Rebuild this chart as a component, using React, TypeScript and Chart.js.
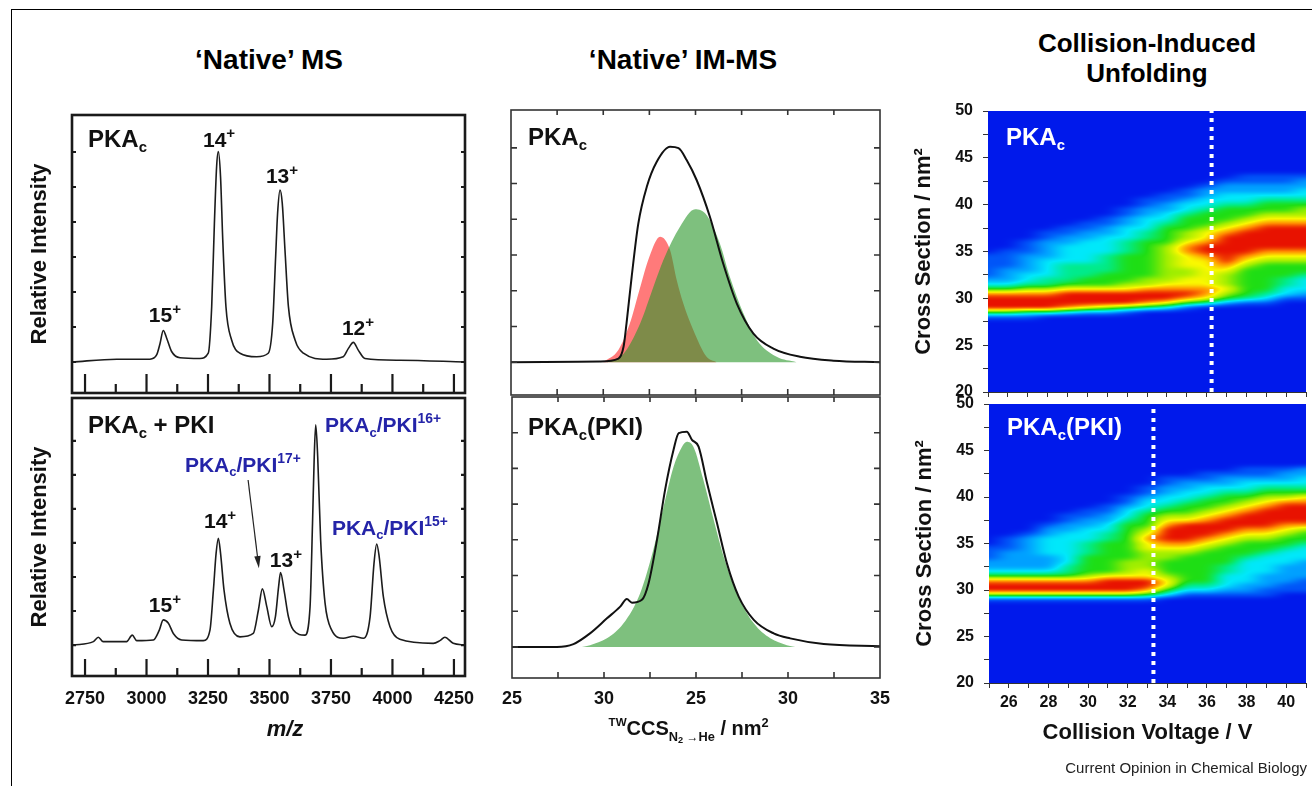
import React, { useEffect, useRef } from 'react';
import { Chart, registerables } from 'chart.js';

Chart.register(...registerables);

const FONT = '"Liberation Sans", Arial, Helvetica, sans-serif';
Chart.defaults.font.family = FONT;
Chart.defaults.color = '#111';

// ---------------- 'Native' MS ----------------
const msTickValues = [2750, 3000, 3250, 3500, 3750, 4000, 4250];
const msTickLabels = ['2750', '3000', '3250', '3500', '3750', '4000', '4250'];
const msMinorTicks = [2875, 3125, 3375, 3625, 3875, 4125];
const msIntensityTicks = [0, 1, 2, 3, 4, 5, 6];

const msApoMz = [2697, 2879, 3014, 3041, 3055, 3068, 3082, 3102, 3136, 3217, 3251, 3265, 3276, 3285, 3292, 3301, 3310, 3323, 3346, 3380, 3448, 3495, 3513, 3525, 3533, 3543, 3552, 3563, 3577, 3604, 3638, 3732, 3800, 3821, 3841, 3861, 3888, 4030, 4295];
const msApoIntensity = [0.0, 0.08, 0.08, 0.2, 0.53, 0.9, 0.68, 0.3, 0.12, 0.1, 0.25, 1.58, 3.96, 5.58, 6.01, 5.29, 3.49, 1.58, 0.63, 0.25, 0.15, 0.25, 1.1, 3.0, 4.25, 4.91, 4.53, 3.2, 1.58, 0.63, 0.25, 0.08, 0.15, 0.39, 0.56, 0.34, 0.1, 0.05, 0.0];

const msPkiMz = [2702, 2784, 2804, 2824, 2919, 2942, 2960, 3028, 3052, 3068, 3089, 3109, 3143, 3231, 3258, 3272, 3283, 3292, 3301, 3315, 3339, 3380, 3434, 3455, 3471, 3489, 3509, 3524, 3537, 3545, 3559, 3577, 3597, 3644, 3665, 3675, 3682, 3688, 3696, 3708, 3726, 3753, 3800, 3841, 3882, 3909, 3925, 3936, 3946, 3963, 3990, 4030, 4166, 4193, 4213, 4247, 4295];
const msPkiIntensity = [0, 0.1, 0.23, 0.1, 0.1, 0.29, 0.13, 0.15, 0.44, 0.74, 0.64, 0.34, 0.15, 0.13, 0.44, 1.62, 2.7, 3.14, 2.7, 1.62, 0.64, 0.24, 0.34, 1.03, 1.65, 1.13, 0.54, 0.83, 1.71, 2.13, 1.62, 0.83, 0.44, 0.29, 1.13, 3.58, 5.54, 6.47, 5.54, 3.09, 1.23, 0.44, 0.2, 0.26, 0.2, 0.83, 2.4, 2.97, 2.6, 1.42, 0.54, 0.17, 0.05, 0.13, 0.23, 0.05, 0];

const pki17ArrowFrom = { mz: 3413, y: 4.85 };
const pki17ArrowTo = { mz: 3457, y: 2.26 };

// ---------------- 'Native' IM-MS ----------------
const imTickValues = [25, 27.5, 30, 32.5, 35];
const imTickLabels = ['25', '30', '25', '30', '35'];
const imMinorTicks = [26.25, 27.5, 28.75, 30, 31.25, 32.5, 33.75];
const imIntensityTicks = [0, 1, 2, 3, 4, 5, 6];

const imApoCcs = [25.0, 27.41, 27.91, 28.05, 28.13, 28.27, 28.45, 28.68, 28.95, 29.31, 29.54, 29.76, 30.03, 30.39, 30.75, 31.12, 31.57, 32.11, 32.83, 33.74, 35.0];
const imApoTotal = [0, 0.02, 0.1, 0.43, 1.08, 2.39, 3.88, 4.91, 5.61, 6.03, 5.99, 5.66, 5.1, 4.07, 2.76, 1.64, 0.8, 0.38, 0.15, 0.04, 0];
const imApoCompactCcs = [27.5, 27.91, 28.22, 28.48, 28.75, 29.04, 29.31, 29.49, 29.67, 29.94, 30.3, 30.57];
const imApoCompact = [0, 0.34, 1.08, 2.02, 2.95, 3.51, 3.14, 2.3, 1.64, 0.9, 0.15, 0];
const imApoExtendedCcs = [27.59, 28.04, 28.5, 28.86, 29.13, 29.58, 29.99, 30.3, 30.66, 30.93, 31.3, 31.66, 32.2, 32.74];
const imApoExtended = [0, 0.22, 1.08, 2.11, 2.86, 3.79, 4.28, 4.12, 3.32, 2.39, 1.36, 0.62, 0.15, 0];

const imPkiCcs = [25.0, 26.22, 26.67, 27.12, 27.58, 27.94, 28.12, 28.26, 28.53, 28.71, 28.94, 29.16, 29.39, 29.53, 29.75, 29.89, 30.07, 30.3, 30.57, 30.84, 31.16, 31.57, 32.11, 32.56, 33.47, 35.0];
const imPkiTotal = [0, 0, 0.08, 0.38, 0.8, 1.13, 1.34, 1.24, 1.32, 1.78, 3.0, 4.4, 5.52, 5.99, 6.03, 5.8, 5.61, 4.59, 3.47, 2.34, 1.41, 0.76, 0.38, 0.24, 0.08, 0.02];
const imPkiFitCcs = [26.9, 27.12, 27.58, 28.03, 28.48, 28.84, 29.12, 29.39, 29.62, 29.75, 29.93, 30.2, 30.48, 30.75, 31.11, 31.57, 32.02, 32.47, 32.7];
const imPkiFit = [0, 0.05, 0.24, 0.66, 1.5, 2.72, 3.93, 5.05, 5.61, 5.75, 5.61, 4.68, 3.56, 2.53, 1.5, 0.66, 0.24, 0.05, 0];

// ---------------- Collision-Induced Unfolding ----------------
const ciuVoltages = [25, 26, 27, 28, 29, 30, 31, 32, 33, 34, 35, 36, 37, 38, 39, 40, 41];
const ciuVoltTickLabels = ['', '26', '', '28', '', '30', '', '32', '', '34', '', '36', '', '38', '', '40', ''];
const ciuCcsRows = [43, 42.5, 42, 41.5, 41, 40.5, 40, 39.5, 39, 38.5, 38, 37.5, 37, 36.5, 36, 35.5, 35, 34.5, 34, 33.5, 33, 32.5, 32, 31.5, 31, 30.5, 30, 29.5, 29, 28.5, 28, 27.5, 27];
const ciuCcsTicks = [20, 22.5, 25, 27.5, 30, 32.5, 35, 37.5, 40, 42.5, 45, 47.5, 50];
const ciuCcsTickLabels = ['20', '', '25', '', '30', '', '35', '', '40', '', '45', '', '50'];
// intensity level 0-9 per voltage column, rows follow ciuCcsRows (43 -> 27 nm2)
const ciuApoGrid = [
  '0000000000' + '0000000' + '11111' + '2358999' + '5100',
  '0000000000' + '000000' + '1111' + '222' + '358999' + '5100',
  '0000000000' + '0000' + '111' + '2222' + '33' + '468999' + '4100',
  '0000000000' + '00' + '11' + '2222' + '3333' + '44' + '68999' + '4000',
  '0000000000' + '0' + '11' + '22' + '3333' + '4444' + '579998' + '3000',
  '0000000000' + '11' + '22' + '33333' + '444' + '55' + '79997' + '2000',
  '000000000' + '11' + '22' + '3333' + '4444' + '555' + '79996' + '2000',
  '0000000' + '11' + '22' + '333' + '444' + '555555' + '67999' + '5' + '1000',
  '00000' + '11' + '22' + '333' + '44' + '55555555' + '66' + '8998' + '4' + '0000',
  '0000' + '11' + '22' + '33' + '4' + '5555' + '66666666' + '7899' + '73' + '0000',
  '000' + '11' + '2' + '33' + '4' + '555' + '66' + '788777' + '66' + '77' + '898' + '51' + '0000',
  '00' + '1' + '22' + '33' + '4' + '555' + '6' + '77' + '8998' + '777777' + '88' + '7' + '40' + '0000',
  '0' + '1' + '22' + '33' + '4' + '555' + '6' + '7' + '8' + '999999' + '8' + '7' + '666' + '7' + '6' + '5' + '2' + '00000',
  '11' + '22' + '33' + '4' + '55' + '6' + '7' + '8' + '99999' + '8' + '7' + '6' + '555555' + '4' + '1' + '00000',
  '11' + '22' + '3' + '4' + '55' + '6' + '7' + '8' + '99999' + '8' + '7' + '6' + '555555' + '4' + '3' + '1' + '00000',
  '11' + '22' + '3' + '4' + '55' + '6' + '7' + '8' + '99999' + '8' + '7' + '6' + '555' + '44' + '33' + '1' + '000000',
  '1' + '22' + '33' + '4' + '5' + '66' + '7' + '8' + '99999' + '8' + '7' + '6' + '55' + '4' + '333' + '2' + '1' + '000000',
];
const ciuPkiGrid = [
  '0000000000' + '0000000' + '111' + '22' + '358996' + '1' + '0000',
  '0000000000' + '00000' + '111' + '2222' + '358996' + '1' + '0000',
  '0000000000' + '0000' + '1' + '2222222' + '358996' + '1' + '0000',
  '0000000000' + '00' + '1' + '22' + '3333' + '222' + '358996' + '1' + '0000',
  '0000000000' + '11' + '22' + '3333333' + '44' + '58996' + '1' + '0000',
  '000000000' + '11' + '22' + '333' + '444' + '5555' + '68996' + '1' + '0000',
  '00000000' + '11' + '22' + '33' + '44' + '5555555' + '79996' + '1' + '0000',
  '000000' + '11' + '2' + '33' + '4' + '55555555' + '666' + '79996' + '1' + '0000',
  '0000' + '11' + '2' + '33' + '4' + '555' + '6' + '7' + '8' + '77' + '6666' + '77' + '998' + '5' + '1' + '0000',
  '00' + '11' + '22' + '33' + '4' + '5' + '6' + '7' + '8' + '999' + '8' + '7' + '66' + '555' + '6' + '77' + '5' + '3' + '00000',
  '00' + '1' + '22' + '33' + '4' + '55' + '6' + '7' + '9999' + '8' + '7' + '6' + '555555' + '4' + '3' + '1' + '00000',
  '0' + '11' + '2' + '33' + '4' + '55' + '6' + '7' + '8' + '999' + '8' + '7' + '6' + '5555555' + '4' + '3' + '1' + '00000',
  '0' + '1' + '22' + '3' + '4' + '55' + '6' + '7' + '8' + '999' + '8' + '7' + '6' + '5555' + '44' + '333' + '2' + '1' + '00000',
  '11' + '2' + '33' + '4' + '5' + '6' + '7' + '8' + '999' + '8' + '7' + '6' + '555' + '4' + '33333' + '22' + '1' + '00000',
  '11' + '2' + '3' + '4' + '5' + '6' + '7' + '8' + '9999' + '8' + '7' + '6' + '55' + '4' + '3333' + '222' + '11' + '00000',
  '1' + '22' + '3' + '4' + '5' + '6' + '8' + '9999' + '8' + '7' + '6' + '55' + '4' + '333' + '2222' + '11' + '000000',
  '22' + '33' + '4' + '5' + '7' + '8' + '9999' + '8' + '6' + '55' + '4' + '333' + '2222' + '111' + '000000',
];
const apoTransitionV = 36.25;
const pkiTransitionV = 33.3;

// ---------------- helpers ----------------
type Seg = { t: string; r?: number; dy?: number };
const SUB = (t: string): Seg => ({ t, r: 0.62, dy: 0.22 });
const SUP = (t: string): Seg => ({ t, r: 0.66, dy: -0.42 });

function drawRich(ctx: any, segs: Seg[], x: number, y: number, size: number, color: string, align: string, style: string) {
  ctx.save();
  ctx.fillStyle = color;
  ctx.textBaseline = 'alphabetic';
  ctx.textAlign = 'left';
  const fontFor = (s: Seg) => `${style} bold ${(size * (s.r ?? 1)).toFixed(2)}px ${FONT}`;
  let total = 0;
  for (const s of segs) {
    ctx.font = fontFor(s);
    total += ctx.measureText(s.t).width;
  }
  let cx = align === 'center' ? x - total / 2 : x;
  for (const s of segs) {
    ctx.font = fontFor(s);
    ctx.fillText(s.t, cx, y + (s.dy ?? 0) * size);
    cx += ctx.measureText(s.t).width;
  }
  ctx.restore();
}

type Lbl = { segs: Seg[]; size: number; color?: string; align?: string; style?: string; x?: number; y?: number; dx?: number; dy?: number; below?: number };

function labelPlugin(labels: Lbl[]) {
  return {
    id: 'richLabels',
    afterDatasetsDraw(chart: any) {
      const { ctx, chartArea: a, scales } = chart;
      for (const l of labels) {
        const px = l.x !== undefined ? scales.x.getPixelForValue(l.x) : a.left + (l.dx ?? 0);
        let py: number;
        if (l.y !== undefined) py = scales.y.getPixelForValue(l.y);
        else if (l.below !== undefined) py = a.bottom + l.below;
        else py = a.top + (l.dy ?? 0);
        drawRich(ctx, l.segs, px, py, l.size, l.color ?? '#111', l.align ?? 'left', l.style ?? 'normal');
      }
    },
  };
}

type TickSet = { values: number[]; len: number };
function framePlugin(o: { width: number; color: string; tickWidth: number; bottom?: TickSet[]; top?: TickSet[]; sides?: TickSet }) {
  return {
    id: 'boxFrame',
    afterDatasetsDraw(chart: any) {
      const { ctx, chartArea: a, scales } = chart;
      const x = scales.x;
      const y = scales.y;
      ctx.save();
      ctx.strokeStyle = o.color;
      ctx.lineWidth = o.width;
      ctx.strokeRect(a.left, a.top, a.right - a.left, a.bottom - a.top);
      ctx.lineWidth = o.tickWidth;
      ctx.beginPath();
      for (const g of o.bottom ?? []) for (const v of g.values) {
        const px = x.getPixelForValue(v);
        ctx.moveTo(px, a.bottom);
        ctx.lineTo(px, a.bottom - g.len);
      }
      for (const g of o.top ?? []) for (const v of g.values) {
        const px = x.getPixelForValue(v);
        ctx.moveTo(px, a.top);
        ctx.lineTo(px, a.top + g.len);
      }
      if (o.sides) for (const v of o.sides.values) {
        const py = y.getPixelForValue(v);
        ctx.moveTo(a.left, py);
        ctx.lineTo(a.left + o.sides.len, py);
        ctx.moveTo(a.right, py);
        ctx.lineTo(a.right - o.sides.len, py);
      }
      ctx.stroke();
      ctx.restore();
    },
  };
}

function arrowPlugin(from: { mz: number; y: number }, to: { mz: number; y: number }) {
  return {
    id: 'arrow',
    afterDatasetsDraw(chart: any) {
      const { ctx, scales } = chart;
      const x0 = scales.x.getPixelForValue(from.mz);
      const y0 = scales.y.getPixelForValue(from.y);
      const x1 = scales.x.getPixelForValue(to.mz);
      const y1 = scales.y.getPixelForValue(to.y);
      const ang = Math.atan2(y1 - y0, x1 - x0);
      const hl = 12;
      const hw = 3.2;
      ctx.save();
      ctx.strokeStyle = '#222';
      ctx.fillStyle = '#222';
      ctx.lineWidth = 1.2;
      ctx.beginPath();
      ctx.moveTo(x0, y0);
      ctx.lineTo(x1 - Math.cos(ang) * hl * 0.8, y1 - Math.sin(ang) * hl * 0.8);
      ctx.stroke();
      ctx.beginPath();
      ctx.moveTo(x1, y1);
      ctx.lineTo(x1 - Math.cos(ang) * hl - Math.sin(ang) * hw, y1 - Math.sin(ang) * hl + Math.cos(ang) * hw);
      ctx.lineTo(x1 - Math.cos(ang) * hl + Math.sin(ang) * hw, y1 - Math.sin(ang) * hl - Math.cos(ang) * hw);
      ctx.closePath();
      ctx.fill();
      ctx.restore();
    },
  };
}

const heatStops = [
  [0, 0, 25, 235], [1, 0, 85, 248], [2, 0, 160, 255], [3, 0, 232, 250], [4, 0, 235, 140],
  [5, 30, 222, 20], [6, 160, 238, 0], [7, 250, 248, 0], [8, 255, 140, 0], [9, 232, 18, 0],
];
function heatColor(v: number): number[] {
  const c = Math.max(0, Math.min(9, v));
  const k = Math.min(8, Math.floor(c));
  const f = c - k;
  const a = heatStops[k];
  const b = heatStops[k + 1];
  return [a[1] + (b[1] - a[1]) * f, a[2] + (b[2] - a[2]) * f, a[3] + (b[3] - a[3]) * f];
}
function fracIndex(arr: number[], v: number): number {
  const n = arr.length;
  for (let k = 0; k < n - 1; k++) {
    const a = arr[k];
    const b = arr[k + 1];
    if ((v - a) * (v - b) <= 0) return k + (v - a) / (b - a);
  }
  const nearStart = Math.abs(v - arr[0]) < Math.abs(v - arr[n - 1]);
  return nearStart ? (v - arr[0]) / (arr[1] - arr[0]) : n - 1 + (v - arr[n - 1]) / (arr[n - 1] - arr[n - 2]);
}
function boxBlur(src: Float32Array, W: number, H: number, rx: number, ry: number): Float32Array {
  const tmp = new Float32Array(W * H);
  const out = new Float32Array(W * H);
  for (let j = 0; j < H; j++) {
    for (let i = 0; i < W; i++) {
      let s = 0;
      let n = 0;
      for (let k = -rx; k <= rx; k++) {
        const ii = Math.max(0, Math.min(W - 1, i + k));
        s += src[j * W + ii];
        n++;
      }
      tmp[j * W + i] = s / n;
    }
  }
  for (let j = 0; j < H; j++) {
    for (let i = 0; i < W; i++) {
      let s = 0;
      let n = 0;
      for (let k = -ry; k <= ry; k++) {
        const jj = Math.max(0, Math.min(H - 1, j + k));
        s += tmp[jj * W + i];
        n++;
      }
      out[j * W + i] = s / n;
    }
  }
  return out;
}

function heatmapPlugin(grid: string[]) {
  const nRows = ciuCcsRows.length;
  const vals = grid.map((col) => Array.from(col.padEnd(nRows, '0').slice(0, nRows)).map(Number));
  const nCols = vals.length;
  const at = (c: number, r: number) => {
    if (r < 0 || r > nRows - 1) return 0;
    const cc = Math.max(0, Math.min(nCols - 1, c));
    return vals[cc][r];
  };
  return {
    id: 'ciuHeat',
    beforeDatasetsDraw(chart: any) {
      const { ctx, chartArea: a, scales } = chart;
      const w = Math.round(a.right - a.left);
      const h = Math.round(a.bottom - a.top);
      const pad = 12;
      const W = w + 2 * pad;
      const H = h + 2 * pad;
      let field = new Float32Array(W * H);
      const colF: number[] = [];
      for (let i = 0; i < W; i++) colF.push(fracIndex(ciuVoltages, scales.x.getValueForPixel(a.left + i - pad + 0.5)));
      for (let j = 0; j < H; j++) {
        const rf = fracIndex(ciuCcsRows, scales.y.getValueForPixel(a.top + j - pad + 0.5));
        const r0 = Math.floor(rf);
        const fr = rf - r0;
        for (let i = 0; i < W; i++) {
          const cf = Math.max(0, Math.min(nCols - 1, colF[i]));
          const c0 = Math.floor(cf);
          const fc = cf - c0;
          field[j * W + i] =
            at(c0, r0) * (1 - fc) * (1 - fr) + at(c0 + 1, r0) * fc * (1 - fr) +
            at(c0, r0 + 1) * (1 - fc) * fr + at(c0 + 1, r0 + 1) * fc * fr;
        }
      }
      field = boxBlur(field, W, H, 6, 2);
      field = boxBlur(field, W, H, 6, 1);
      const off = document.createElement('canvas');
      off.width = w;
      off.height = h;
      const octx = off.getContext('2d') as CanvasRenderingContext2D;
      const img = octx.createImageData(w, h);
      for (let j = 0; j < h; j++) {
        for (let i = 0; i < w; i++) {
          const col = heatColor(field[(j + pad) * W + i + pad]);
          const p = (j * w + i) * 4;
          img.data[p] = col[0];
          img.data[p + 1] = col[1];
          img.data[p + 2] = col[2];
          img.data[p + 3] = 255;
        }
      }
      octx.putImageData(img, 0, 0);
      ctx.drawImage(off, a.left, a.top);
    },
  };
}

const xy = (xs: number[], ys: number[]) => xs.map((x, i) => ({ x, y: ys[i] }));
const noPad = (s: any) => { s.paddingTop = 0; s.paddingBottom = 0; s.paddingLeft = 0; s.paddingRight = 0; };

const baseOptions = {
  animation: false,
  responsive: false,
  maintainAspectRatio: false,
  events: [],
  plugins: { legend: { display: false }, tooltip: { enabled: false }, title: { display: false } },
};

const hiddenY = (min: number, max: number, title?: string) => ({
  type: 'linear',
  min,
  max,
  display: !!title,
  afterFit: (s: any) => { s.width = 45; noPad(s); },
  ticks: { display: false },
  grid: { display: false },
  border: { display: false },
  title: { display: !!title, text: title, font: { size: 22, weight: 'bold' }, color: '#111', padding: 0 },
});

const PKAc: Seg[] = [{ t: 'PKA' }, SUB('c')];
const BLUE = '#2424a8';
const PLUS = (): Seg => ({ t: '+', r: 0.72, dy: -0.4 });

function makeMsApo() {
  return {
    type: 'line',
    data: { datasets: [{ data: xy(msApoMz, msApoIntensity), borderColor: '#1c1c1c', borderWidth: 1.6, pointRadius: 0, cubicInterpolationMode: 'monotone', fill: false }] },
    options: {
      ...baseOptions,
      layout: { padding: { left: 27, top: 15, right: 15, bottom: 7 } },
      scales: {
        x: { type: 'linear', min: 2697, max: 4295, display: false },
        y: hiddenY(-0.886, 7.057, 'Relative Intensity'),
      },
    },
    plugins: [
      framePlugin({ width: 2.6, color: '#1a1a1a', tickWidth: 2.2, bottom: [{ values: msTickValues, len: 19 }, { values: msMinorTicks, len: 9 }], sides: { values: msIntensityTicks, len: 4 } }),
      labelPlugin([
        { segs: PKAc, size: 24, dx: 16, dy: 32 },
        { segs: [{ t: '14' }, PLUS()], size: 21, align: 'center', x: 3295, y: 6.15 },
        { segs: [{ t: '13' }, PLUS()], size: 21, align: 'center', x: 3551, y: 5.11 },
        { segs: [{ t: '15' }, PLUS()], size: 21, align: 'center', x: 3075, y: 1.14 },
        { segs: [{ t: '12' }, PLUS()], size: 21, align: 'center', x: 3860, y: 0.77 },
      ]),
    ],
  };
}

function makeMsPki() {
  return {
    type: 'line',
    data: { datasets: [{ data: xy(msPkiMz, msPkiIntensity), borderColor: '#1c1c1c', borderWidth: 1.6, pointRadius: 0, cubicInterpolationMode: 'monotone', fill: false }] },
    options: {
      ...baseOptions,
      layout: { padding: { left: 27, top: 8, right: 15, bottom: 14 } },
      scales: {
        x: {
          type: 'linear', min: 2697, max: 4295,
          afterBuildTicks: (s: any) => { s.ticks = msTickValues.map((value) => ({ value })); },
          afterFit: (s: any) => { s.height = 60; noPad(s); },
          ticks: { autoSkip: false, maxRotation: 0, padding: 12, font: { size: 18, weight: 'bold' }, color: '#111', callback: (_v: any, i: number) => msTickLabels[i] },
          grid: { display: false, drawTicks: false },
          border: { display: false },
        },
        y: hiddenY(-0.91, 7.26, 'Relative Intensity'),
      },
    },
    plugins: [
      framePlugin({ width: 2.6, color: '#1a1a1a', tickWidth: 2.2, bottom: [{ values: msTickValues, len: 17 }, { values: msMinorTicks, len: 8 }], sides: { values: msIntensityTicks, len: 4 } }),
      arrowPlugin(pki17ArrowFrom, pki17ArrowTo),
      labelPlugin([
        { segs: [...PKAc, { t: ' + PKI' }], size: 24, dx: 16, dy: 35 },
        { segs: [{ t: '15' }, PLUS()], size: 21, align: 'center', x: 3075, y: 0.97 },
        { segs: [{ t: '14' }, PLUS()], size: 21, align: 'center', x: 3299, y: 3.44 },
        { segs: [{ t: '13' }, PLUS()], size: 21, align: 'center', x: 3567, y: 2.29 },
        { segs: [...PKAc, { t: '/PKI' }, SUP('17+')], size: 21, color: BLUE, x: 3156, y: 5.09 },
        { segs: [...PKAc, { t: '/PKI' }, SUP('16+')], size: 21, color: BLUE, x: 3726, y: 6.26 },
        { segs: [...PKAc, { t: '/PKI' }, SUP('15+')], size: 21, color: BLUE, x: 3754, y: 3.24 },
        { segs: [{ t: 'm/z' }], size: 22, style: 'italic', align: 'center', x: 3563, below: 60 },
      ]),
    ],
  };
}

const imFrame = () => framePlugin({ width: 1.6, color: '#333', tickWidth: 1.6, bottom: [{ values: imMinorTicks, len: 6 }], top: [{ values: imMinorTicks, len: 5 }], sides: { values: imIntensityTicks, len: 6 } });

function makeImApo() {
  return {
    type: 'line',
    data: {
      datasets: [
        { data: xy(imApoCcs, imApoTotal), borderColor: '#111', borderWidth: 2, pointRadius: 0, cubicInterpolationMode: 'monotone', fill: false, order: 0 },
        { data: xy(imApoExtendedCcs, imApoExtended), borderWidth: 0, borderColor: 'rgba(0,0,0,0)', backgroundColor: 'rgba(40,150,40,0.6)', pointRadius: 0, cubicInterpolationMode: 'monotone', fill: 'origin', order: 1 },
        { data: xy(imApoCompactCcs, imApoCompact), borderWidth: 0, borderColor: 'rgba(0,0,0,0)', backgroundColor: 'rgba(255,40,40,0.62)', pointRadius: 0, cubicInterpolationMode: 'monotone', fill: 'origin', order: 2 },
      ],
    },
    options: {
      ...baseOptions,
      layout: { padding: { left: 21, top: 10, right: 20, bottom: 5 } },
      scales: {
        x: { type: 'linear', min: 25, max: 35, display: false },
        y: { type: 'linear', min: -0.92, max: 7.06, display: false },
      },
    },
    plugins: [imFrame(), labelPlugin([{ segs: PKAc, size: 24, dx: 17, dy: 35 }])],
  };
}

function makeImPki() {
  return {
    type: 'line',
    data: {
      datasets: [
        { data: xy(imPkiCcs, imPkiTotal), borderColor: '#111', borderWidth: 2, pointRadius: 0, cubicInterpolationMode: 'monotone', fill: false, order: 0 },
        { data: xy(imPkiFitCcs, imPkiFit), borderWidth: 0, borderColor: 'rgba(0,0,0,0)', backgroundColor: 'rgba(40,150,40,0.6)', pointRadius: 0, cubicInterpolationMode: 'monotone', fill: 'origin', order: 1 },
      ],
    },
    options: {
      ...baseOptions,
      layout: { padding: { left: 22, top: 7, right: 20, bottom: 22 } },
      scales: {
        x: {
          type: 'linear', min: 25, max: 35,
          afterBuildTicks: (s: any) => { s.ticks = imTickValues.map((value) => ({ value })); },
          afterFit: (s: any) => { s.height = 50; noPad(s); },
          ticks: { autoSkip: false, maxRotation: 0, padding: 10, font: { size: 18, weight: 'bold' }, color: '#111', callback: (_v: any, i: number) => imTickLabels[i] },
          grid: { display: false, drawTicks: false },
          border: { display: false },
        },
        y: { type: 'linear', min: -0.87, max: 7.0, display: false },
      },
    },
    plugins: [
      imFrame(),
      labelPlugin([
        { segs: [...PKAc, { t: '(PKI)' }], size: 24, dx: 16, dy: 38 },
        {
          segs: [{ t: 'TW', r: 0.58, dy: -0.45 }, { t: 'CCS' }, { t: 'N', r: 0.64, dy: 0.3 }, { t: '2', r: 0.46, dy: 0.42 }, { t: ' \u2192', r: 0.6, dy: 0.3 }, { t: 'He', r: 0.64, dy: 0.3 }, { t: ' / nm' }, { t: '2', r: 0.64, dy: -0.42 }],
          size: 20, align: 'center', x: 29.8, below: 57,
        },
      ]),
    ],
  };
}

function makeCiu(grid: string[], transitionV: number, label: Seg[], labelDy: number, showX: boolean, padding: any, xHeight: number) {
  return {
    type: 'line',
    data: {
      datasets: [
        { data: [{ x: transitionV, y: 20 }, { x: transitionV, y: 50 }], borderColor: '#ffffff', borderWidth: 4, borderDash: [4, 5], borderCapStyle: 'butt', pointRadius: 0, fill: false },
      ],
    },
    options: {
      ...baseOptions,
      layout: { padding },
      scales: {
        x: {
          type: 'linear', min: 25, max: 41, z: 1,
          afterBuildTicks: (s: any) => { s.ticks = ciuVoltages.map((value) => ({ value })); },
          afterFit: (s: any) => { s.height = xHeight; noPad(s); },
          ticks: { display: showX, autoSkip: false, maxRotation: 0, padding: 5, font: { size: 16, weight: 'bold' }, color: '#111', callback: (_v: any, i: number) => ciuVoltTickLabels[i] },
          grid: { display: true, drawOnChartArea: false, drawTicks: true, tickLength: 5, color: '#333', lineWidth: 1 },
          border: { display: true, color: '#333', width: 1 },
          title: { display: showX, text: 'Collision Voltage / V', font: { size: 22, weight: 'bold' }, color: '#111', padding: 0 },
        },
        y: {
          type: 'linear', min: 20, max: 50, z: 1,
          afterBuildTicks: (s: any) => { s.ticks = ciuCcsTicks.map((value) => ({ value })); },
          afterFit: (s: any) => { s.width = 77; noPad(s); },
          ticks: { autoSkip: false, padding: 10, font: { size: 16, weight: 'bold' }, color: '#111', callback: (_v: any, i: number) => ciuCcsTickLabels[i] },
          grid: { display: true, drawOnChartArea: false, drawTicks: true, tickLength: 5, color: '#333', lineWidth: 1 },
          border: { display: true, color: '#333', width: 1 },
          title: { display: true, text: 'Cross Section / nm\u00b2', font: { size: 22, weight: 'bold' }, color: '#111', padding: 0 },
        },
      },
    },
    plugins: [heatmapPlugin(grid), labelPlugin([{ segs: label, size: 24, color: '#ffffff', dx: 18, dy: labelDy }])],
  };
}

function ChartBox({ make, left, top, width, height }: { make: () => any; left: number; top: number; width: number; height: number }) {
  const ref = useRef<HTMLCanvasElement>(null);
  useEffect(() => {
    const chart = new Chart(ref.current as HTMLCanvasElement, make());
    return () => chart.destroy();
  }, []);
  return <canvas ref={ref} width={width} height={height} style={{ position: 'absolute', left, top, width, height }} />;
}

const titleStyle: any = { position: 'absolute', fontFamily: FONT, fontWeight: 'bold', color: '#000', textAlign: 'center', whiteSpace: 'nowrap' };

export default function App() {
  return (
    <div style={{ position: 'absolute', left: 0, top: 0, width: 1312, height: 786, background: '#fff', overflow: 'hidden' }}>
      <div style={{ position: 'absolute', left: 11, top: 9, width: 1320, height: 800, borderTop: '1.5px solid #000', borderLeft: '1.5px solid #000' }} />
      <div style={{ ...titleStyle, left: 69, top: 46, width: 400, fontSize: 28, lineHeight: '28px' }}>{'\u2018Native\u2019 MS'}</div>
      <div style={{ ...titleStyle, left: 483, top: 46, width: 400, fontSize: 28, lineHeight: '28px' }}>{'\u2018Native\u2019 IM-MS'}</div>
      <div style={{ ...titleStyle, left: 947, top: 28, width: 400, fontSize: 26, lineHeight: '30px' }}>
        Collision-Induced
        <br />
        Unfolding
      </div>
      <ChartBox make={makeMsApo} left={0} top={100} width={480} height={300} />
      <ChartBox make={makeMsPki} left={0} top={390} width={480} height={360} />
      <ChartBox make={makeImApo} left={490} top={100} width={410} height={300} />
      <ChartBox make={makeImPki} left={490} top={390} width={410} height={360} />
      <ChartBox make={() => makeCiu(ciuApoGrid, apoTransitionV, PKAc, 34, false, { left: 11, top: 11, right: 6, bottom: 2 }, 6)} left={900} top={100} width={412} height={300} />
      <ChartBox make={() => makeCiu(ciuPkiGrid, pkiTransitionV, [...PKAc, { t: '(PKI)' }], 31, true, { left: 12, top: 14, right: 6, bottom: 40 }, 63)} left={900} top={390} width={412} height={396} />
      <div style={{ position: 'absolute', right: 5, top: 759, fontFamily: FONT, fontSize: 15, color: '#222', whiteSpace: 'nowrap' }}>Current Opinion in Chemical Biology</div>
    </div>
  );
}
